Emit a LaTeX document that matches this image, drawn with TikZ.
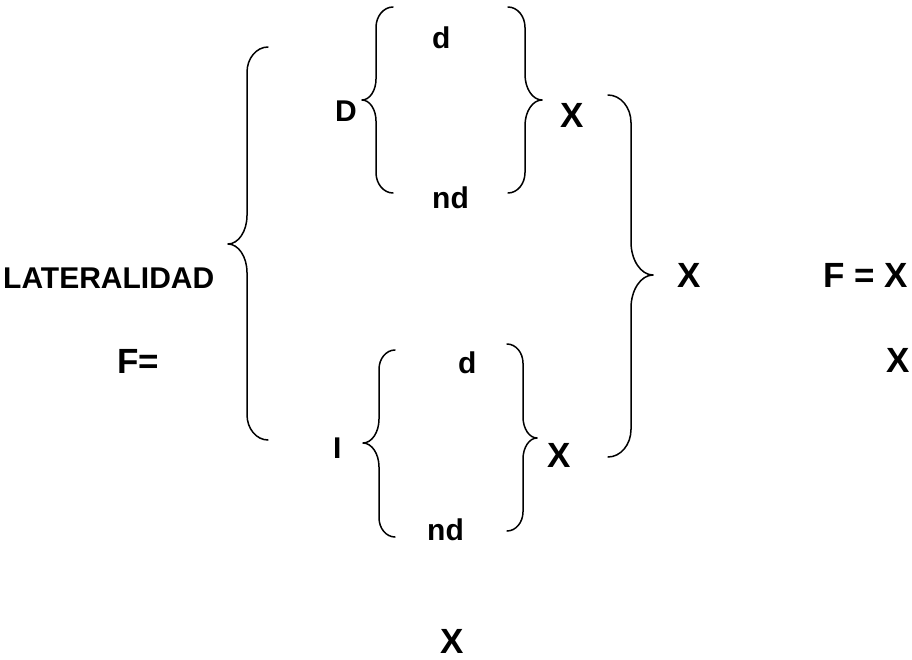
\documentclass[tikz,border=0pt]{standalone}
\usepackage{fontspec}
\setmainfont{Liberation Sans}
\usetikzlibrary{positioning}

\tikzset{
  brc/.style={line width=1.5pt, line cap=round, line join=round},
  sml/.style={font=\bfseries\fontsize{30}{32}\selectfont, inner sep=0pt, anchor=base west},
  big/.style={font=\bfseries\fontsize{35}{38}\selectfont, inner sep=0pt, anchor=base west}
}

% curly brace: end x, bar x, tip x, top y, middle y, bottom y
\newcommand{\curlybrace}[6]{%
  \pgfmathsetmacro{\rcorner}{1.2*abs(#1-#2)}
  \pgfmathsetmacro{\rtip}{1.5*abs(#3-#2)}
  \draw[brc] (#1,#4) .. controls ({#1+0.55*(#2-#1)},#4) and (#2,{#4+0.45*\rcorner}) .. (#2,{#4+\rcorner})
    -- (#2,{#5-\rtip}) .. controls (#2,{#5-0.45*\rtip}) and ({#3+0.55*(#2-#3)},#5) .. (#3,#5)
    .. controls ({#3+0.55*(#2-#3)},#5) and (#2,{#5+0.45*\rtip}) .. (#2,{#5+\rtip})
    -- (#2,{#6-\rcorner}) .. controls (#2,{#6-0.45*\rcorner}) and ({#1+0.55*(#2-#1)},#6) .. (#1,#6);}

\begin{document}
\begin{tikzpicture}[x=1pt,y=-1pt]
\useasboundingbox (0,0) rectangle (912,659);

% braces
\curlybrace{268}{247}{228}{47}{244}{440}
\curlybrace{608}{631}{653}{95}{275}{457}
\curlybrace{393}{376}{362}{7}{100}{193}
\curlybrace{508}{525}{542}{7}{100}{193}
\curlybrace{395}{379}{363}{350}{443}{537}
\curlybrace{507}{523}{537}{344}{438}{531}

% left side
\node[sml] (lat) at (3,288) {LATERALIDAD};
\node[big] (feq) at (117,373) {F=};

% upper group
\node[sml] (dD) at (335,121) {D};
\node[sml] (dd) at (432,48) {d};
\node[sml] (dnd) at (432,208) {nd};
\node[big] (dX) at (560,127) {X};

% lower group
\node[sml] (iI) at (333,458) {I};
\node[sml] (id) at (458,373) {d};
\node[sml] (ind) at (427,540) {nd};
\node[big] (iX) at (547,467) {X};

% result
\node[big] (mX) at (677,287) {X};
\node[big] (fx) at (823,287) {F = X};
\node[big, anchor=base east] (rX) at (910,372) {X};
\node[big] (lowX) at (440,653) {X};
\end{tikzpicture}
\end{document}
